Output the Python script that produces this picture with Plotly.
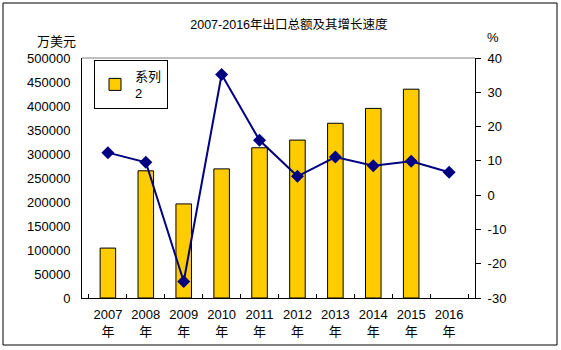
import plotly.graph_objects as go

years = ["2007", "2008", "2009", "2010", "2011", "2012", "2013", "2014", "2015", "2016"]
categories = [y + "<br>年" for y in years]
export_total = [104000, 265000, 196000, 269000, 313000, 329000, 364000, 395000, 435000, None]
growth_rate = [12.4, 9.6, -25.2, 35.2, 16.0, 5.5, 11.1, 8.6, 9.9, 6.7]
left_ticks = [0, 50000, 100000, 150000, 200000, 250000, 300000, 350000, 400000, 450000, 500000]
right_ticks = [-30, -20, -10, 0, 10, 20, 30, 40]

FONT = "Arial, 'Liberation Sans', 'Noto Sans CJK SC', sans-serif"

fig = go.Figure()
fig.add_trace(go.Bar(
    x=categories, y=export_total, name="系列<br>2",
    marker=dict(color="#FFCC00", line=dict(color="#000000", width=1)),
    width=0.41, yaxis="y",
))
fig.add_trace(go.Scatter(
    x=categories, y=growth_rate, mode="lines+markers", yaxis="y2",
    line=dict(color="#000080", width=2),
    marker=dict(symbol="diamond", size=10, color="#000080"),
    showlegend=False,
))

fig.update_layout(
    width=561, height=350,
    margin=dict(l=82, r=86, t=58, b=52, autoexpand=False),
    paper_bgcolor="white", plot_bgcolor="white",
    font=dict(family=FONT, size=13, color="#000000"),
    title=dict(text="2007-2016年出口总额及其增长速度", x=0.515, xanchor="center",
               y=1 - 25 / 350, yanchor="middle", font=dict(size=12.5)),
    xaxis=dict(type="category", showline=True, linecolor="#000000", linewidth=1,
               ticks="inside", ticklen=4, tickcolor="#000000", tickson="boundaries",
               showgrid=False, tickfont=dict(size=13), tickangle=0, automargin=False,
               ticklabelstandoff=4),
    yaxis=dict(range=[0, 500000], tickvals=left_ticks, ticktext=[str(v) for v in left_ticks],
               showline=True, linecolor="#000000", linewidth=1, ticks="",
               showgrid=False, zeroline=False, tickfont=dict(size=13), ticklabelstandoff=8,
               automargin=False),
    yaxis2=dict(range=[-30, 40], tickvals=right_ticks, ticktext=[str(v) for v in right_ticks],
                overlaying="y", side="right",
                showline=True, linecolor="#000000", linewidth=1, ticks="outside",
                ticklen=5, tickcolor="#000000", showgrid=False, zeroline=False,
                tickfont=dict(size=13), automargin=False, ticklabelstandoff=4),
    legend=dict(x=(94 - 82) / 393, y=(298 - 60) / 240, xanchor="left", yanchor="top",
                bordercolor="#000000", borderwidth=1, bgcolor="white",
                font=dict(size=13)),
    showlegend=True,
    bargap=0.59,
)

fig.add_shape(type="line", xref="paper", yref="paper", x0=0, x1=1, y0=1, y1=1,
              line=dict(color="#808080", width=1))
fig.add_shape(type="rect", xref="paper", yref="paper",
              x0=(3 - 82) / 393, x1=(557 - 82) / 393,
              y0=(298 - 345) / 240, y1=(298 - 3) / 240,
              line=dict(color="#000000", width=1))
fig.add_annotation(text="万美元", xref="paper", yref="paper", x=(56 - 82) / 393,
                   y=(298 - 41) / 240, showarrow=False, xanchor="center", yanchor="middle",
                   font=dict(size=13))
fig.add_annotation(text="%", xref="paper", yref="paper", x=(493 - 82) / 393,
                   y=(298 - 37) / 240, showarrow=False, xanchor="center", yanchor="middle",
                   font=dict(size=13))

fig.write_html("out.html")
